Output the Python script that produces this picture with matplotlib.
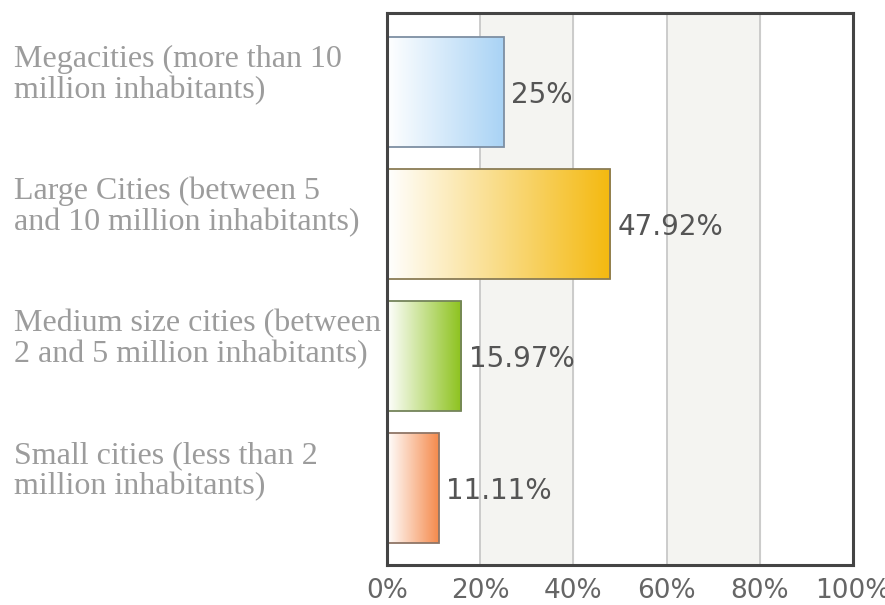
import numpy as np
import matplotlib.pyplot as plt
from matplotlib.colors import LinearSegmentedColormap

categories = ["Megacities (more than 10\nmillion inhabitants)",
              "Large Cities (between 5\nand 10 million inhabitants)",
              "Medium size cities (between\n2 and 5 million inhabitants)",
              "Small cities (less than 2\nmillion inhabitants)"]
values = [25, 47.92, 15.97, 11.11]
value_labels = ["25%", "47.92%", "15.97%", "11.11%"]
end_colors = ["#a9d3f5", "#f4b90f", "#8cc21c", "#f58a4c"]
edge_colors = ["#7d8fa3", "#8a7c55", "#74845a", "#8f7566"]
xticks = [0, 20, 40, 60, 80, 100]
xtick_labels = ["0%", "20%", "40%", "60%", "80%", "100%"]

fig = plt.figure(figsize=(8.85, 6.05), dpi=100)
ax = fig.add_axes([387/885, 1 - 565/605, (853-387)/885, (565-13)/605])

# alternating bands and grid lines
for x0 in (20, 60):
    ax.axvspan(x0, x0 + 20, color="#f4f4f1", zorder=0)
for x in xticks[1:-1]:
    ax.axvline(x, color="#c4c4c4", lw=1.2, zorder=1)

h = 0.833
grad = np.linspace(0, 1, 256).reshape(1, -1)
label_x = -(387 - 14) / (853 - 387) * 100
for i, (v, c, ec, lab) in enumerate(zip(values, end_colors, edge_colors, value_labels)):
    cmap = LinearSegmentedColormap.from_list("g%d" % i, ["#ffffff", c])
    ax.imshow(grad, cmap=cmap, extent=(0, v, i + h/2, i - h/2),
              aspect="auto", zorder=2, interpolation="bicubic")
    ax.add_patch(plt.Rectangle((0, i - h/2), v, h, fill=False,
                               edgecolor=ec, lw=1.3, zorder=3))
    ax.text(v + 1.6, i + 0.02, lab, va="center", ha="left",
            fontsize=20, color="#555555", family="DejaVu Sans", zorder=4)
    ax.text(label_x, i - 0.13, categories[i],
            va="center", ha="left", fontsize=23, color="#9c9c9c",
            family="Liberation Serif", linespacing=1.08)

ax.set_xlim(0, 100)
ax.set_ylim(3.583, -0.598)
ax.set_yticks([])
ax.set_xticks(xticks)
ax.set_xticklabels(xtick_labels, fontsize=19, color="#666666")
ax.tick_params(axis="x", length=0, pad=9)
for s in ax.spines.values():
    s.set_color("#444444")
    s.set_linewidth(2.2)
    s.set_zorder(5)

fig.savefig("out.png", dpi=100)
